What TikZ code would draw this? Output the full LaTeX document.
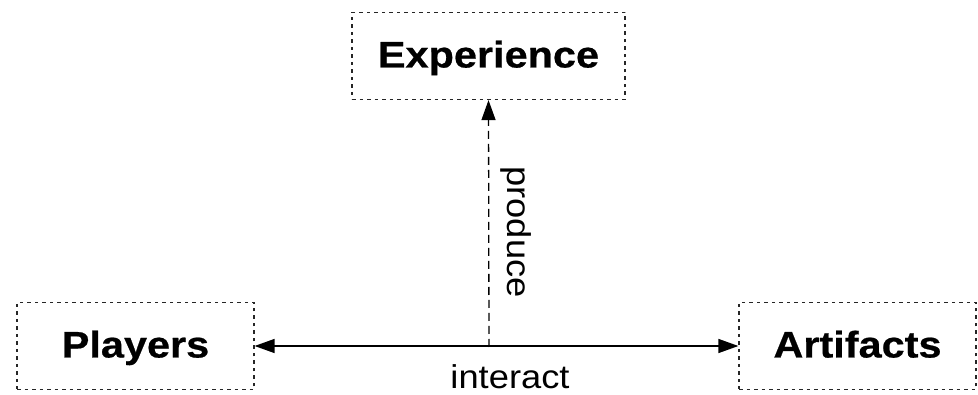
\documentclass[tikz,border=0pt]{standalone}
\usepackage{fontspec}
\setmainfont{Liberation Sans}
\newfontfamily\labfont[FakeStretch=1.1]{Liberation Sans}
\newfontfamily\boldlabfont[FakeStretch=1.12,FakeBold=0.6]{Liberation Sans Bold}
\usetikzlibrary{arrows.meta}
\begin{document}
\begin{tikzpicture}[x=1pt,y=-1pt,
  boxnode/.style={draw=black!85,line width=1.2pt,dash pattern=on 3.5pt off 4pt,
    minimum width=#1,minimum height=87pt,inner sep=0pt,text height=28pt,text depth=5pt,
    font=\boldlabfont\fontsize{37}{40}\selectfont},
  conn/.style={line width=1.3pt,-{Triangle[length=20pt,width=14pt]}},
  lbl/.style={font=\labfont\fontsize{33}{36}\selectfont,inner sep=0pt}]
\useasboundingbox (0,0) rectangle (978,395);
\node[boxnode=273pt] (exp) at (488.5,56) {Experience};
\node[boxnode=237pt] (pl) at (135.5,346) {Players};
\node[boxnode=237pt] (ar) at (857.5,346) {Artifacts};
\coordinate (m) at (489,347);
\draw[conn,{Triangle[length=20pt,width=14pt]}-{Triangle[length=20pt,width=14pt]}] (pl.east) -- (ar.west);
\draw[conn,dash pattern=on 8pt off 5pt] (m) -- (exp.south);
\node[lbl,rotate=-90] (prod) at (516,232) {produce};
\node[lbl] (int) at (510,377) {interact};
\end{tikzpicture}
\end{document}
